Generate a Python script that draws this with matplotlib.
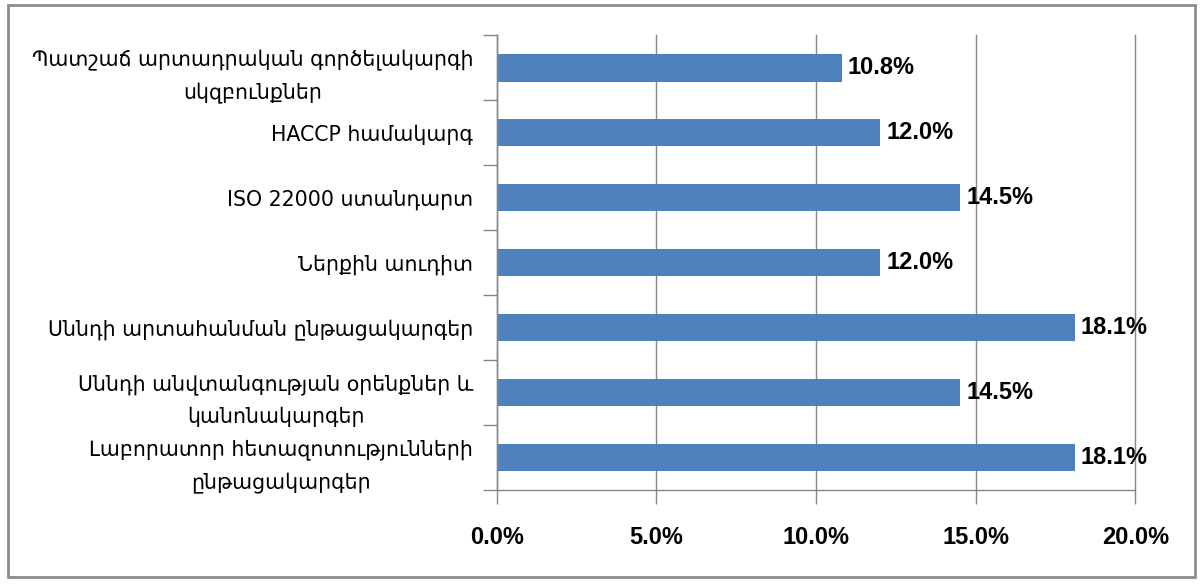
import matplotlib
matplotlib.use("Agg")
import matplotlib.pyplot as plt
from matplotlib.patches import Rectangle
from matplotlib.ticker import FixedLocator, PercentFormatter

# categories (top to bottom as in the picture)
labels = [
    "Պատշաճ արտադրական գործելակարգի\nսկզբունքներ",
    "HACCP համակարգ",
    "ISO 22000 ստանդարտ",
    "Ներքին աուդիտ",
    "Սննդի արտահանման ընթացակարգեր",
    "Սննդի անվտանգության օրենքներ և\nկանոնակարգեր",
    "Լաբորատոր հետազոտությունների\nընթացակարգեր",
]
values = [10.8, 12.0, 14.5, 12.0, 18.1, 14.5, 18.1]
xticks = [0, 5, 10, 15, 20]

bar_color = "#4F81BD"
axis_color = "#868686"
num_font = ["Liberation Sans", "DejaVu Sans"]

fig = plt.figure(figsize=(12, 5.84), dpi=100)
ax = fig.add_axes([0.414, 0.161, 0.532, 0.779])

# outer chart frame
fig.patches.append(Rectangle((0.007, 0.012), 0.989, 0.979, transform=fig.transFigure,
                             fill=False, edgecolor="#8c8c8c", linewidth=2))

n = len(values)
pos = list(range(n))[::-1]
ax.barh(pos, values, height=0.43, color=bar_color, zorder=2)

# value labels
for p, v in zip(pos, values):
    ax.text(v + 0.2, p, f"{v:.1f}%", va="center", ha="left", fontsize=17,
            family=num_font, fontweight="bold", color="black", zorder=4)

ax.set_xlim(0, 20)
ax.set_ylim(-0.5, n - 0.5)
ax.set_xticks(xticks)
ax.xaxis.set_major_formatter(PercentFormatter(decimals=1))
for lab in ax.get_xticklabels():
    lab.set_family(num_font)
    lab.set_fontweight("bold")
    lab.set_fontsize(17)
ax.tick_params(axis="x", length=10, width=1, color=axis_color, pad=16)

ax.set_yticks(pos)
ax.set_yticklabels(labels, fontsize=14.8, family="DejaVu Sans", ha="right",
                   multialignment="center", linespacing=1.75)
ax.tick_params(axis="y", which="major", length=0, pad=17)
ax.yaxis.set_minor_locator(FixedLocator([i - 0.5 for i in range(n + 1)]))
ax.tick_params(axis="y", which="minor", length=10, width=1, color=axis_color)

ax.grid(axis="x", color=axis_color, linewidth=1, zorder=1, clip_on=False)
ax.set_axisbelow(True)
for side in ["top", "right"]:
    ax.spines[side].set_visible(False)
for side in ["left", "bottom"]:
    ax.spines[side].set_color(axis_color)
    ax.spines[side].set_linewidth(1)

fig.savefig("out.png", dpi=100)
